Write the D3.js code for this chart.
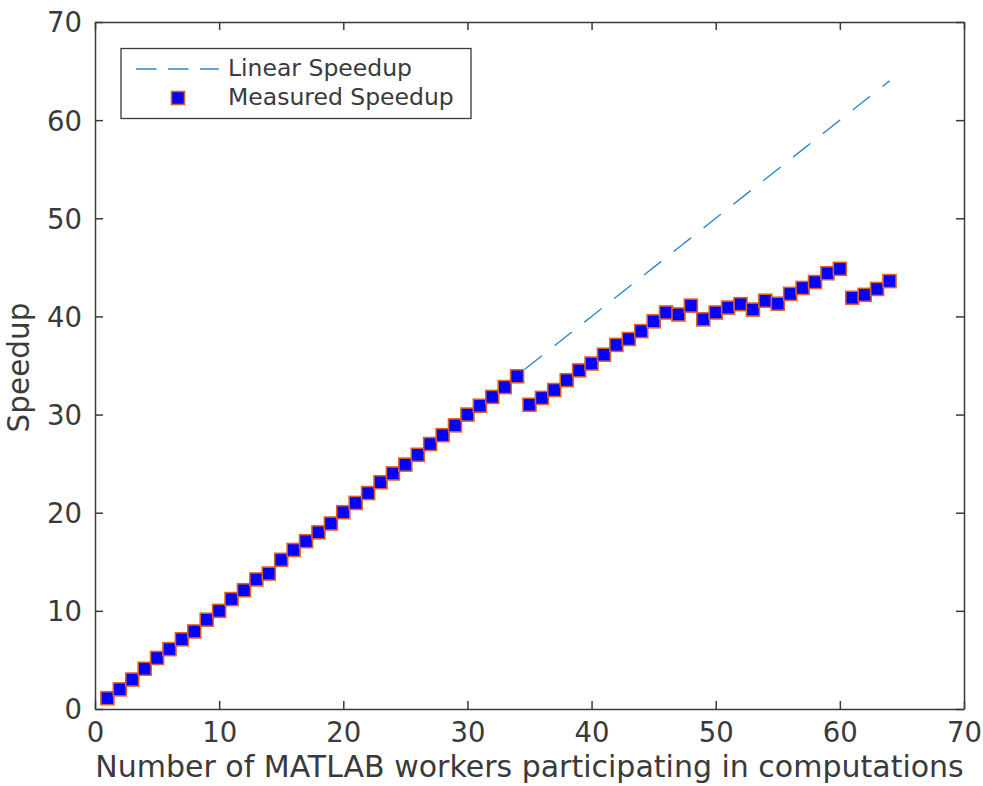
<!DOCTYPE html>
<html>
<head>
<meta charset="utf-8">
<script src="https://cdn.jsdelivr.net/npm/d3@7"></script>
<style>
  html, body { margin: 0; padding: 0; background: #fff; }
  svg { display: block; }
</style>
</head>
<body>
<svg id="chart" width="983" height="786"></svg>
<script>
// ---- Data ----
const workers = d3.range(1, 65);
const measuredSpeedup = [
  1.1, 2.0, 3.0, 4.1, 5.2, 6.1, 7.1, 7.9, 9.1, 10.0,
  11.2, 12.1, 13.2, 13.8, 15.2, 16.2, 17.1, 18.0, 18.9, 20.05,
  21.0, 22.0, 23.1, 24.0, 24.9, 25.9, 27.0, 27.9, 28.9, 30.0,
  30.9, 31.8, 32.8, 33.9, 31.0, 31.7, 32.5, 33.5, 34.5, 35.2,
  36.1, 37.1, 37.7, 38.5, 39.5, 40.4, 40.2, 41.1, 39.7, 40.4,
  40.9, 41.25, 40.7, 41.6, 41.3, 42.3, 42.9, 43.5, 44.4, 44.85,
  41.9, 42.2, 42.8, 43.6
];
const linearSpeedup = workers.map(w => w); // ideal speedup = workers
const xTicks = [0, 10, 20, 30, 40, 50, 60, 70];
const yTicks = [0, 10, 20, 30, 40, 50, 60, 70];
const seriesNames = ["Linear Speedup", "Measured Speedup"];
const xLabel = "Number of MATLAB workers participating in computations";
const yLabel = "Speedup";

// ---- Layout ----
const L = 95, R = 964, T = 22, B = 709;
const axisColor = "#3a3a3a";
const textColor = "#3a3a3a";
const lineColor = "#2b8ad0";
const markerFill = "#0000ff";
const markerEdge = "#e0601f";
const font = "DejaVu Sans";

const svg = d3.select("#chart");
const x = d3.scaleLinear().domain([0, 70]).range([L, R]);
const y = d3.scaleLinear().domain([0, 70]).range([B, T]);

// Linear speedup dashed line
svg.append("path")
  .datum(workers)
  .attr("fill", "none")
  .attr("stroke", lineColor)
  .attr("stroke-width", 1.4)
  .attr("stroke-dasharray", "22,16")
  .attr("d", d3.line().x(d => x(d)).y((d, i) => y(linearSpeedup[i])));

// Measured markers
const ms = 13;
svg.append("g").selectAll("rect")
  .data(workers)
  .join("rect")
  .attr("x", d => x(d) - ms / 2)
  .attr("y", (d, i) => y(measuredSpeedup[i]) - ms / 2)
  .attr("width", ms).attr("height", ms)
  .attr("fill", markerFill)
  .attr("stroke", markerEdge)
  .attr("stroke-width", 1.6);

// Axes
const tickLen = 8;
const axB = svg.append("g").attr("transform", `translate(0,${B})`)
  .call(d3.axisBottom(x).tickValues(xTicks).tickSizeInner(-tickLen).tickSizeOuter(0).tickPadding(13));
const axT = svg.append("g").attr("transform", `translate(0,${T})`)
  .call(d3.axisTop(x).tickValues(xTicks).tickSizeInner(-tickLen).tickSizeOuter(0).tickFormat(""));
const axL = svg.append("g").attr("transform", `translate(${L},0)`)
  .call(d3.axisLeft(y).tickValues(yTicks).tickSizeInner(-tickLen).tickSizeOuter(0).tickPadding(13));
const axR = svg.append("g").attr("transform", `translate(${R},0)`)
  .call(d3.axisRight(y).tickValues(yTicks).tickSizeInner(-tickLen).tickSizeOuter(0).tickFormat(""));

[axB, axT, axL, axR].forEach(g => {
  g.select(".domain").attr("stroke", axisColor).attr("stroke-width", 1.5);
  g.selectAll(".tick line").attr("stroke", axisColor).attr("stroke-width", 1.5);
  g.selectAll(".tick text").attr("fill", textColor)
    .style("font-family", font).style("font-size", "27.5px");
});
axB.selectAll(".tick text").attr("dy", "0.73em");
axL.selectAll(".tick text").attr("dy", "0.36em");

// Axis labels
svg.append("text")
  .attr("x", (L + R) / 2).attr("y", 777)
  .attr("text-anchor", "middle")
  .attr("fill", textColor)
  .style("font-family", font).style("font-size", "30px")
  .text(xLabel);
svg.append("text")
  .attr("transform", `translate(29,${(T + B) / 2 + 2}) rotate(-90)`)
  .attr("text-anchor", "middle")
  .attr("fill", textColor)
  .style("font-family", font).style("font-size", "29.5px")
  .text(yLabel);

// Legend
const lg = svg.append("g");
lg.append("rect")
  .attr("x", 121).attr("y", 48.5).attr("width", 350).attr("height", 70)
  .attr("fill", "#fff").attr("stroke", axisColor).attr("stroke-width", 1.3);
lg.append("line")
  .attr("x1", 136).attr("x2", 219).attr("y1", 69).attr("y2", 69)
  .attr("stroke", lineColor).attr("stroke-width", 1.4)
  .attr("stroke-dasharray", "20.5,11.5");
lg.append("rect")
  .attr("x", 178 - ms / 2).attr("y", 98 - ms / 2).attr("width", ms).attr("height", ms)
  .attr("fill", markerFill).attr("stroke", markerEdge).attr("stroke-width", 1.6);
lg.selectAll("text.lab")
  .data(seriesNames)
  .join("text")
  .attr("class", "lab")
  .attr("x", 228)
  .attr("y", (d, i) => 68 + i * 29)
  .attr("dy", "0.36em")
  .attr("fill", textColor)
  .style("font-family", font).style("font-size", "23.5px")
  .text(d => d);
</script>
</body>
</html>
